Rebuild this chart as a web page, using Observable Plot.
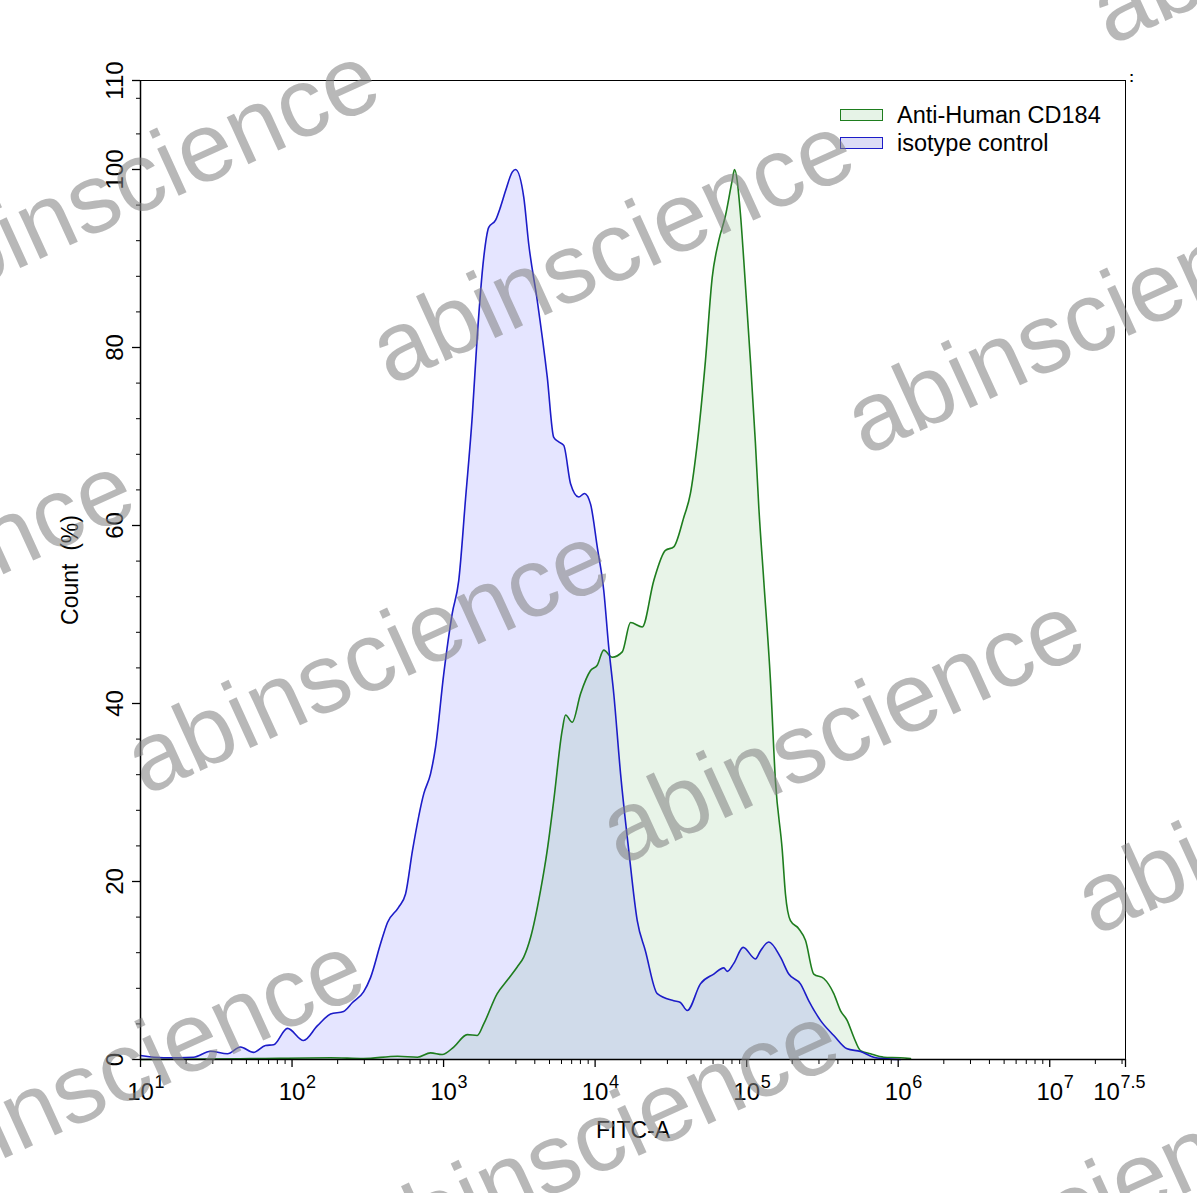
<!DOCTYPE html>
<html>
<head>
<meta charset="utf-8">
<script src="https://cdn.jsdelivr.net/npm/d3@7"></script>
<script src="https://cdn.jsdelivr.net/npm/@observablehq/plot@0.6"></script>
<style>
  body { margin: 0; background: #fff; font-family: "Liberation Sans", Arial, sans-serif; }
  #wrap { position: relative; width: 1197px; height: 1193px; overflow: hidden; background: #fff; }
  #chart { position: absolute; left: 0; top: 0; }
  .leg { position: absolute; font-size: 23.5px; line-height: 23px; color: #000; white-space: nowrap; }
  .sw { position: absolute; width: 41px; height: 10px; }
  #wm { position: absolute; left: 0; top: 0; pointer-events: none; }
</style>
</head>
<body>
<div id="wrap">
  <div id="chart"></div>
  <div class="sw" style="left:840px;top:109px;border:1.5px solid #1e7d1e;background:#e6f3e7;"></div>
  <div class="leg" style="left:897px;top:104px;">Anti-Human CD184</div>
  <div class="sw" style="left:840px;top:137px;border:1.5px solid #1c1cc8;background:#dcdcf6;"></div>
  <div class="leg" style="left:897px;top:132px;">isotype control</div>
</div>
<script>
// ---- data (x given as log10 of FITC-A intensity, y = Count %) ----
const seriesNames = ["Anti-Human CD184", "isotype control"];

const isoExp = [1.000,1.152,1.350,1.462,1.574,1.660,1.746,1.825,1.878,1.970,2.076,2.168,2.254,2.340,2.399,2.472,2.518,2.584,2.630,2.703,2.749,2.795,2.870,2.914,2.947,3.001,3.057,3.100,3.145,3.189,3.222,3.265,3.298,3.343,3.376,3.409,3.453,3.475,3.529,3.562,3.618,3.684,3.727,3.760,3.793,3.838,3.892,3.930,3.970,4.014,4.057,4.090,4.123,4.168,4.222,4.278,4.332,4.410,4.519,4.563,4.608,4.695,4.783,4.849,4.872,4.915,4.977,5.058,5.091,5.146,5.223,5.278,5.355,5.410,5.487,5.575,5.663,5.751,5.839,5.903,6.015];
const isoCount = [0.45,0.2,0.26,0.93,0.64,1.4,0.8,1.57,1.65,3.5,2.13,3.8,5.1,5.4,6.4,7.6,9.2,13.0,15.4,17.1,18.6,23.5,29.9,32.1,35.1,43.3,50.1,53.8,63.0,72.2,81.2,90.1,93.5,94.3,95.8,97.6,99.7,100,96.9,91.6,85.3,76.7,69.9,69.4,69.0,64.7,63.2,63.6,62.4,57.6,52.7,46.3,41.1,32.1,23.5,15.6,12.2,7.4,6.6,6.4,5.5,8.5,9.6,10.3,9.9,10.8,12.6,11.3,12.2,13.2,11.5,9.6,8.5,6.6,4.4,2.7,1.2,0.9,0.26,0.1,0];

const cdExp = [1.000,1.726,2.254,2.472,2.696,2.828,2.914,2.991,3.067,3.156,3.222,3.265,3.354,3.420,3.486,3.529,3.574,3.640,3.684,3.727,3.783,3.805,3.849,3.904,3.970,4.014,4.057,4.113,4.179,4.234,4.311,4.387,4.464,4.519,4.585,4.629,4.674,4.728,4.773,4.816,4.860,4.905,4.920,4.959,4.981,5.025,5.058,5.080,5.113,5.157,5.190,5.235,5.256,5.289,5.344,5.388,5.443,5.509,5.575,5.619,5.663,5.707,5.751,5.817,5.905,6.015,6.081];
const cdCount = [0,0.1,0.2,0.1,0.37,0.26,0.75,0.56,1.4,2.8,2.7,4.0,7.4,8.9,10.4,11.5,13.7,19.0,23.5,29.1,37.0,38.7,37.9,41.1,43.7,44.3,46.0,45.2,45.8,49.1,48.6,53.8,57.2,57.6,60.9,63.6,69.2,78.5,87.9,92.0,94.8,98.8,100,95.0,89.8,78.5,69.2,62.1,53.8,42.6,31.3,23.5,18.6,15.6,14.7,13.4,9.6,9.1,7.4,5.5,4.4,2.5,1.0,0.64,0.26,0.2,0.1];

// ---- tick labels ----
const xTickExps = [1, 2, 3, 4, 5, 6, 7, 7.5];
const yTickLabels = [0, 20, 40, 60, 80, 100, 110];
const xTitle = "FITC-A";
const yTitle = "Count\u00a0 (%)";

// watermark anchors (baseline start of the repeated "abinscience" stamp)
const wmText = "abinscience";
const wmX = [390, -85, 865, 1110, 145, -330, 620, 1095, -100, 375, 850, 635];
const wmY = [386, 316, 456, 46, 796, 726, 866, 936, 1206, 1276, 1346, -24];

// ---- build tables ----
const iso = isoExp.map((e, i) => ({x: 10 ** e, y: isoCount[i]}));
const cd = cdExp.map((e, i) => ({x: 10 ** e, y: cdCount[i]}));

const xMajor = xTickExps.map(e => 10 ** e);
const xMinor = [];
for (let k = 1; k <= 7; k++) for (let m = 2; m <= 9; m++) { const v = m * 10 ** k; if (v < 10 ** 7.5) xMinor.push(v); }
const yMinor = d3.range(0, 110, 4).filter(v => v % 20 !== 0);
const mainLabs = xTickExps.filter(e => e !== 7.5);
const lastLabs = xTickExps.filter(e => e === 7.5);

const font = "Liberation Sans, Arial, sans-serif";
const blueLine = "#1c1cc8", greenLine = "#1e7d1e";

const chart = Plot.plot({
  width: 1197, height: 1193,
  marginLeft: 140, marginRight: 72, marginTop: 80, marginBottom: 134,
  style: {fontFamily: font, fontSize: "24px", color: "#000", background: "transparent", overflow: "visible"},
  x: {type: "log", domain: [10, 10 ** 7.5]},
  y: {domain: [0, 110]},
  marks: [
    Plot.areaY(cd, {x: "x", y: "y", fill: "#008000", fillOpacity: 0.09, curve: "monotone-x"}),
    Plot.areaY(iso, {x: "x", y: "y", fill: "#0000ff", fillOpacity: 0.1, curve: "monotone-x"}),
    Plot.line(cd, {x: "x", y: "y", stroke: greenLine, strokeWidth: 1.6, curve: "monotone-x"}),
    Plot.line(iso, {x: "x", y: "y", stroke: blueLine, strokeWidth: 1.6, curve: "monotone-x"}),
    Plot.frame({stroke: "#000", strokeWidth: 1}),
    Plot.ruleY([0], {stroke: "#000", strokeWidth: 1.5}),
    Plot.ruleX([10], {stroke: "#000", strokeWidth: 1.5}),
    // x ticks
    Plot.axisX({ticks: xMajor, tickSize: 8, tickFormat: () => "", label: null, strokeWidth: 1.3}),
    Plot.axisX({ticks: xMinor, tickSize: 5, tickFormat: () => "", label: null}),
    Plot.text(mainLabs, {x: e => 10 ** e, text: () => "10", frameAnchor: "bottom", dy: 23, lineAnchor: "top", fontSize: 24}),
    Plot.text(mainLabs, {x: e => 10 ** e, text: e => String(e), frameAnchor: "bottom", dy: 16, dx: 14, textAnchor: "start", lineAnchor: "top", fontSize: 18}),
    Plot.text(lastLabs, {x: e => 10 ** e, text: () => "10", frameAnchor: "bottom", dy: 23, dx: -19, lineAnchor: "top", fontSize: 24}),
    Plot.text(lastLabs, {x: e => 10 ** e, text: e => String(e), frameAnchor: "bottom", dy: 16, dx: -5, textAnchor: "start", lineAnchor: "top", fontSize: 18}),
    // y ticks
    Plot.axisY({ticks: yTickLabels, tickSize: 8, tickFormat: () => "", label: null, strokeWidth: 1.3}),
    Plot.axisY({ticks: yMinor, tickSize: 4, tickFormat: () => "", label: null}),
    Plot.text(yTickLabels, {y: d => d, text: d => String(d), frameAnchor: "left", dx: -18, rotate: -90, textAnchor: "middle", lineAnchor: "bottom", fontSize: 24}),
    // titles
    Plot.text([xTitle], {frameAnchor: "bottom", dy: 71, lineAnchor: "middle", textAnchor: "middle", fontSize: 23}),
    Plot.text([yTitle], {frameAnchor: "left", dx: -70, rotate: -90, textAnchor: "middle", lineAnchor: "middle", fontSize: 23}),
    Plot.text([":"], {frameAnchor: "top-right", dx: 6, dy: -3, textAnchor: "middle", lineAnchor: "middle", fontSize: 14, fontWeight: "bold"})
  ]
});
document.getElementById("chart").appendChild(chart);

// watermark overlay
const ns = "http://www.w3.org/2000/svg";
const wm = document.createElementNS(ns, "svg");
wm.setAttribute("id", "wm");
wm.setAttribute("width", 1197);
wm.setAttribute("height", 1193);
wmX.forEach((x, i) => {
  const t = document.createElementNS(ns, "text");
  t.setAttribute("transform", `translate(${x},${wmY[i]}) rotate(-24.5)`);
  t.setAttribute("font-family", font);
  t.setAttribute("font-size", 98);
  t.setAttribute("fill", "#808080");
  t.setAttribute("fill-opacity", 0.56);
  t.textContent = wmText;
  wm.appendChild(t);
});
document.getElementById("wrap").appendChild(wm);
</script>
</body>
</html>
